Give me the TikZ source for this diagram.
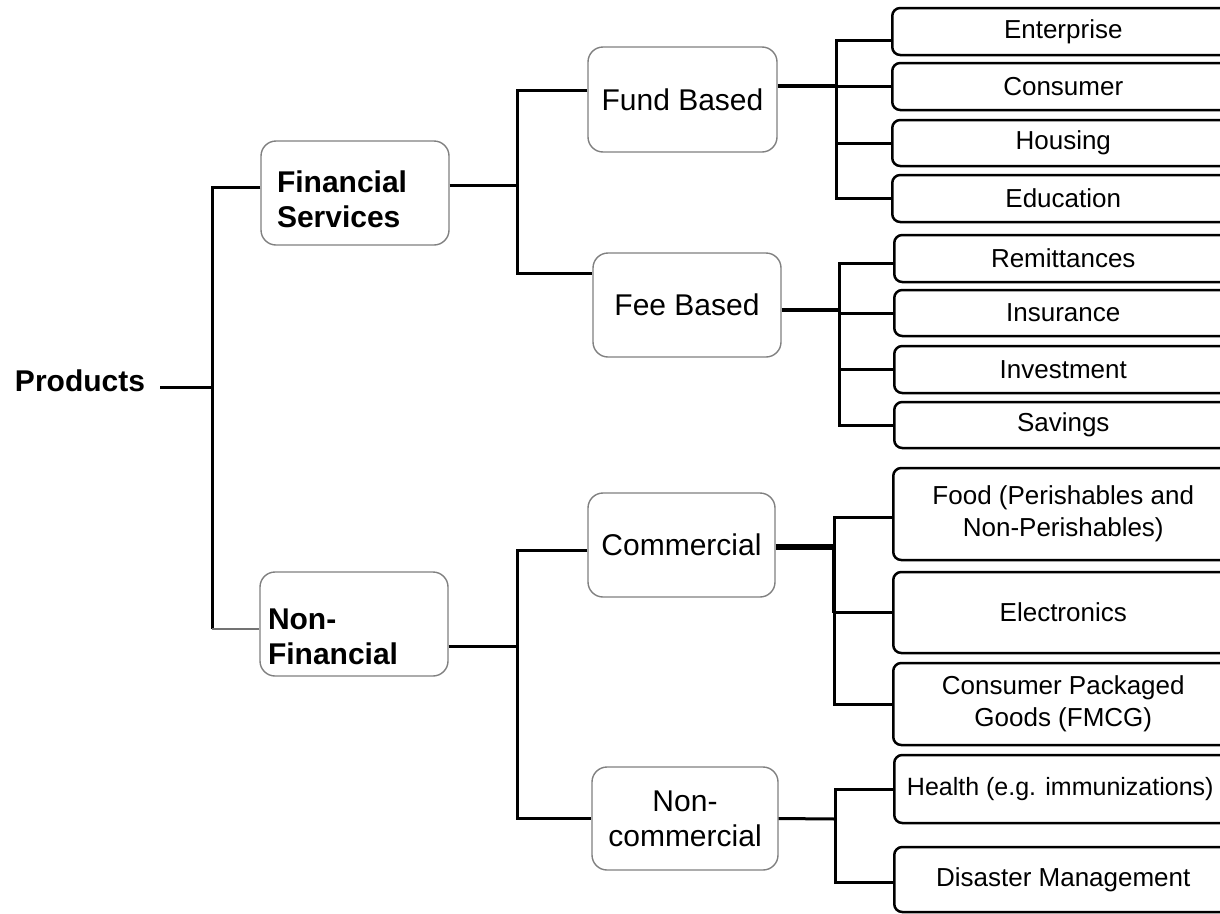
\documentclass[tikz,border=0pt]{standalone}
\usepackage{fontspec}
\setmainfont{Liberation Sans}
\begin{document}
\begin{tikzpicture}[x=1pt,y=-1pt,
  conn/.style={line width=3pt},
  midbox/.style={draw=black!50, line width=1.4pt, rounded corners=15pt, fill=white,
    minimum width=188pt, minimum height=104pt, align=center, inner sep=2pt,
    font=\fontsize{30}{35}\selectfont},
  boldtxt/.style={font=\bfseries\fontsize{30}{35}\selectfont},
  leaf/.style={draw=black, line width=2.5pt, rounded corners=8pt, anchor=west,
    align=center, inner xsep=2pt, inner ysep=0pt, fill=white,
    font=\fontsize{26}{32}\selectfont},
]
\clip (0,0) rectangle (1220,913);

% root
\node[boldtxt, inner sep=0pt] (P) at (80,381) {Products};

% level 1
\node[midbox, label={[boldtxt, align=left, text width=156pt, yshift=-6pt]center:Financial\\Services}] (FS) at (355,193) {};
\node[midbox, label={[boldtxt, align=left, text width=172pt, yshift=-13pt]center:Non-\\Financial}] (NF) at (354,624) {};

% level 2
\node[midbox, minimum width=189pt, minimum height=105pt] (FB) at (682.5,99.5) {Fund Based};
\node[midbox] (FeeB) at (687,305) {Fee Based};
\node[midbox, minimum width=187pt] (Com) at (681.5,545) {Commercial};
\node[midbox, minimum width=186pt, minimum height=103pt] (NC) at (685,818.5) {Non-\\commercial};

% leaves
\node[leaf, minimum width=342pt, minimum height=47pt] (E) at (891,31.5) {Enterprise};
\node[leaf, minimum width=342pt, minimum height=47pt] (C) at (891,86.5) {Consumer};
\node[leaf, minimum width=342pt, minimum height=46pt] (H) at (891,143) {Housing};
\node[leaf, minimum width=342pt, minimum height=47pt] (Ed) at (891,198.5) {Education};

\node[leaf, minimum width=338pt, minimum height=47pt] (R) at (893,258.5) {Remittances};
\node[leaf, minimum width=338pt, minimum height=46pt] (I) at (893,313) {Insurance};
\node[leaf, minimum width=338pt, minimum height=47pt] (Inv) at (893,369.5) {Investment};
\node[leaf, minimum width=338pt, minimum height=46pt] (S) at (893,425) {Savings};

\node[leaf, minimum width=340pt, minimum height=92pt] (Food) at (892,514) {Food (Perishables and\\Non-Perishables)};
\node[leaf, minimum width=340pt, minimum height=81pt] (Elec) at (892,612.5) {Electronics};
\node[leaf, minimum width=340pt, minimum height=82pt] (CPG) at (892,704) {Consumer Packaged\\Goods (FMCG)};

\node[leaf, minimum width=338pt, minimum height=68pt, font=\fontsize{25}{30}\selectfont] (Hl) at (893,789) {\hspace*{-6pt}Health (e.g. immunizations)};
\node[leaf, minimum width=338pt, minimum height=65pt] (Dis) at (893,879.5) {Disaster Management};

% connectors: root
\coordinate (J0) at (212,387);
\coordinate (J0b) at (212,629);
\draw[conn] ([xshift=15pt,yshift=-6pt]P.east) -- (J0);
\draw[conn] ([yshift=6pt]FS.west) -| (J0b);
\draw[black!55, line width=1.5pt] (J0b) -- (NF.west |- J0b);

% Financial Services
\coordinate (J1) at (517,185);
\draw[conn] (FS.east |- J1) -- (J1);
\draw[conn] ([yshift=9.5pt]FB.west) -| (J1) |- ([yshift=32pt]FeeB.west);

% Fund Based
\coordinate (J2) at (836,86);
\draw[line width=4.5pt] ([yshift=13.5pt]FB.east) -- (J2);
\draw[conn] ([yshift=-8.5pt]E.west) -| (J2 |- Ed.west) -- (Ed.west);
\draw[conn] (J2) -- (C.west |- J2);
\draw[conn] (J2 |- H.west) -- (H.west);

% Fee Based
\coordinate (J3) at (839,310);
\draw[line width=4pt] ([yshift=-5pt]FeeB.east) -- (J3);
\draw[conn] ([yshift=-4.5pt]R.west) -| (J3 |- S.west) -- (S.west);
\draw[conn] (J3 |- I.west) -- (I.west);
\draw[conn] (J3 |- Inv.west) -- (Inv.west);

% Non-Financial
\coordinate (J4) at (517,646);
\draw[conn] (NF.east |- J4) -- (J4);
\draw[conn] ([yshift=-5pt]Com.west) -| (J4) |- (NC.west);

% Commercial
\coordinate (J5) at (834,547);
\draw[line width=6pt] ([yshift=-2pt]Com.east) -- (J5);
\draw[conn] ([yshift=-3pt]Food.west) -| (J5 |- CPG.west) -- (CPG.west);
\draw[line width=4.5pt] (J5) -- (J5 |- Elec.west);
\draw[conn] (J5 |- Elec.west) -- (Elec.west);

% Non-commercial
\coordinate (J6) at (835,819);
\draw[conn] (NC.east) -- (J6);
\draw[conn] (Hl.west) -| (J6) |- ([yshift=-2.5pt]Dis.west);
\end{tikzpicture}
\end{document}
